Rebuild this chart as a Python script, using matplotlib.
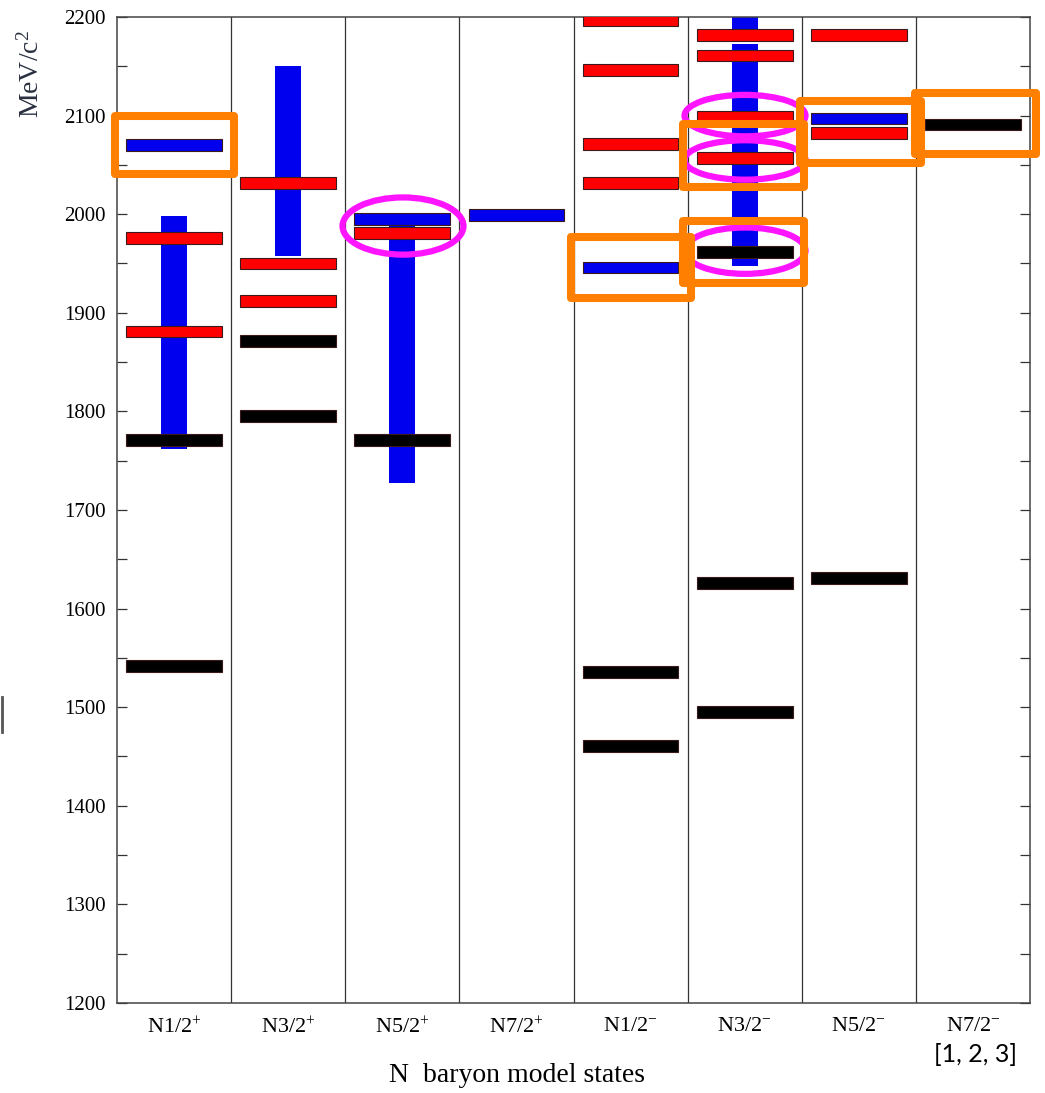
import matplotlib
matplotlib.use("Agg")
import matplotlib.pyplot as plt
from matplotlib.patches import Rectangle, Ellipse
from matplotlib.lines import Line2D
import numpy as np

plt.rcParams["font.family"] = ["Liberation Serif", "DejaVu Serif"]
plt.rcParams["mathtext.fontset"] = "custom"
plt.rcParams["mathtext.rm"] = "Liberation Serif"
plt.rcParams["mathtext.it"] = "Liberation Serif:italic"

# spin-parity columns
states = ["N1/2$^{+}$", "N3/2$^{+}$", "N5/2$^{+}$", "N7/2$^{+}$",
          "N1/2$^{-}$", "N3/2$^{-}$", "N5/2$^{-}$", "N7/2$^{-}$"]

# red levels (column index, mass in MeV)
red_col = [0, 0, 1, 1, 1, 2, 4, 4, 4, 4, 5, 5, 5, 5, 6, 6]
red_mass = [1976, 1881, 2032, 1950, 1912, 1981, 2197, 2146, 2071, 2032,
            2182, 2161, 2099, 2057, 2182, 2082]

# blue levels
blue_col = [0, 2, 3, 4, 6]
blue_mass = [2070, 1995, 1999, 1946, 2097]

# black levels
black_col = [0, 0, 1, 1, 2, 4, 4, 5, 5, 5, 6, 7]
black_mass = [1771, 1542, 1871, 1795, 1771, 1536, 1461, 1962, 1626, 1495, 1631, 2091]

# blue mass bands
band_col = [0, 1, 2, 5, 5]
band_lo = [1762, 1958, 1727, 1947, 2178]
band_hi = [1998, 2150, 1988, 2173, 2210]

# highlighted regions: orange boxes (x0, x1, m_lo, m_hi), magenta ellipses (x, m, w, h)
box_x0 = [-0.02, 3.98, 4.96, 4.96, 5.985, 6.99]
box_x1 = [1.025, 5.03, 6.02, 6.02, 7.045, 8.05]
box_lo = [2041, 1915, 2028, 1930, 2052, 2061]
box_hi = [2100, 1977, 2091, 1993, 2115, 2123]
ell_x = [2.506, 5.503, 5.503, 5.503]
ell_m = [1988, 2100, 2055, 1963]
ell_w = [1.06, 1.06, 1.06, 1.06]
ell_h = [58, 42, 40, 47]

yticks = list(range(1200, 2201, 100))

W, H = 1045, 1093
fig = plt.figure(figsize=(W / 100, H / 100), dpi=100)
ax = fig.add_axes([117 / W, 1 - 1003 / H, 913 / W, 986 / H])

bar_h = 12
inset = 0.08
band_w = 0.23

for c, lo, hi in zip(band_col, band_lo, band_hi):
    ax.bar(c + 0.5, hi - lo, bottom=lo, width=band_w, color="#0000ee",
           edgecolor="none", zorder=2)

for cols, masses, color in [(red_col, red_mass, "#ff0000"),
                            (blue_col, blue_mass, "#0000ee"),
                            (black_col, black_mass, "#000000")]:
    for c, m in zip(cols, masses):
        ax.barh(m, 1 - 2 * inset, left=c + inset, height=bar_h, color=color,
                edgecolor="#3a1a1a", linewidth=0.8, zorder=3)

for i in range(1, len(states)):
    ax.axvline(i, color="#333333", lw=0.9, zorder=1)

for x, m, w, h in zip(ell_x, ell_m, ell_w, ell_h):
    ax.add_patch(Ellipse((x, m), w, h, fill=False, edgecolor="#ff14ff",
                         lw=4.5, zorder=5, clip_on=False))

for x0, x1, lo, hi in zip(box_x0, box_x1, box_lo, box_hi):
    ax.add_patch(Rectangle((x0, lo), x1 - x0, hi - lo, fill=False,
                           edgecolor="#ff8000", lw=5.8, joinstyle="round",
                           zorder=6, clip_on=False))

ax.set_xlim(0, len(states))
ax.set_ylim(1200, 2200)
ax.set_xticks(np.arange(len(states)) + 0.5)
ax.set_xticklabels(states, fontsize=16)
ax.tick_params(axis="x", length=0, pad=10)
ax.set_yticks(yticks)
ax.set_yticklabels([str(v) for v in yticks], fontsize=15,
                   family="Liberation Serif")
ax.set_yticks(np.arange(1250, 2200, 100), minor=True)
ax.tick_params(axis="y", which="both", direction="in", length=7, width=0.9,
               color="#333333", left=True, right=True, pad=8)
for s in ax.spines.values():
    s.set_color("#444444")
    s.set_linewidth(1.1)

fig.text(31 / W, 1 - 74 / H, "MeV/c$^{2}$", rotation=90, ha="center",
         va="center", fontsize=20, color="#2a3040")
fig.text(517 / W, 1 - 1076 / H, "N  baryon model states", ha="center",
         va="center", fontsize=20)
fig.text(976 / W, 1 - 1055 / H, "[1, 2, 3]", ha="center", va="center",
         fontsize=18, family="Lato")
fig.add_artist(Line2D([2 / W, 2 / W], [1 - 697 / H, 1 - 732 / H],
                      color="#555555", lw=2))

fig.savefig("out.png", dpi=100)
